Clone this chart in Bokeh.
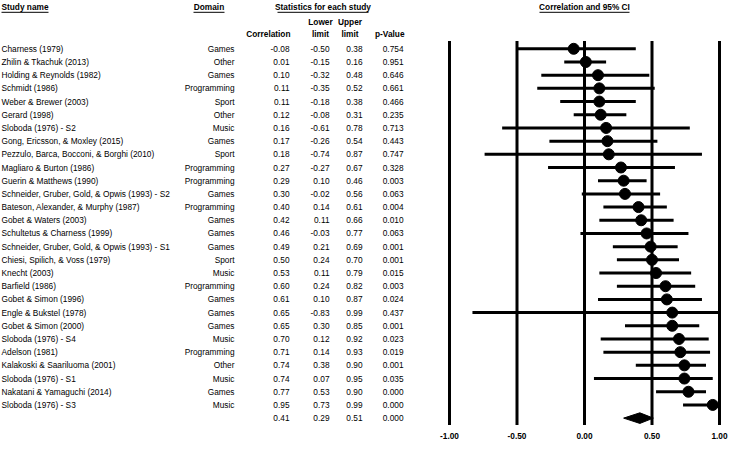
from bokeh.plotting import figure
from bokeh.models import Range1d, ColumnDataSource
from bokeh.core.properties import value
from bokeh.embed import file_html
from bokeh.resources import INLINE

# ---------------- data ----------------
studies = [
    "Charness (1979)", "Zhilin & Tkachuk (2013)", "Holding & Reynolds (1982)",
    "Schmidt (1986)", "Weber & Brewer (2003)", "Gerard (1998)", "Sloboda (1976) - S2",
    "Gong, Ericsson, & Moxley (2015)", "Pezzulo, Barca, Bocconi, & Borghi (2010)",
    "Magliaro & Burton (1986)", "Guerin & Matthews (1990)",
    "Schneider, Gruber, Gold, & Opwis (1993) - S2", "Bateson, Alexander, & Murphy (1987)",
    "Gobet & Waters (2003)", "Schultetus & Charness (1999)",
    "Schneider, Gruber, Gold, & Opwis (1993) - S1", "Chiesi, Spilich, & Voss (1979)",
    "Knecht (2003)", "Barfield (1986)", "Gobet & Simon (1996)", "Engle & Bukstel (1978)",
    "Gobet & Simon (2000)", "Sloboda (1976) - S4", "Adelson (1981)",
    "Kalakoski & Saariluoma (2001)", "Sloboda (1976) - S1", "Nakatani & Yamaguchi (2014)",
    "Sloboda (1976) - S3",
]
domains = [
    "Games", "Other", "Games", "Programming", "Sport", "Other", "Music", "Games", "Sport",
    "Programming", "Programming", "Games", "Programming", "Games", "Games", "Games", "Sport",
    "Music", "Programming", "Games", "Games", "Games", "Music", "Programming", "Other",
    "Music", "Games", "Music",
]
corr = [-0.08, 0.01, 0.10, 0.11, 0.11, 0.12, 0.16, 0.17, 0.18, 0.27, 0.29, 0.30, 0.40, 0.42,
        0.46, 0.49, 0.50, 0.53, 0.60, 0.61, 0.65, 0.65, 0.70, 0.71, 0.74, 0.74, 0.77, 0.95]
lower = [-0.50, -0.15, -0.32, -0.35, -0.18, -0.08, -0.61, -0.26, -0.74, -0.27, 0.10, -0.02,
         0.14, 0.11, -0.03, 0.21, 0.24, 0.11, 0.24, 0.10, -0.83, 0.30, 0.12, 0.14, 0.38, 0.07,
         0.53, 0.73]
upper = [0.38, 0.16, 0.48, 0.52, 0.38, 0.31, 0.78, 0.54, 0.87, 0.67, 0.46, 0.56, 0.61, 0.66,
         0.77, 0.69, 0.70, 0.79, 0.82, 0.87, 0.99, 0.85, 0.92, 0.93, 0.90, 0.95, 0.90, 0.99]
pvals = [0.754, 0.951, 0.646, 0.661, 0.466, 0.235, 0.713, 0.443, 0.747, 0.328, 0.003, 0.063,
         0.004, 0.010, 0.063, 0.001, 0.001, 0.015, 0.003, 0.024, 0.437, 0.001, 0.023, 0.019,
         0.001, 0.035, 0.000, 0.000]
sum_corr, sum_lower, sum_upper, sum_p = 0.41, 0.29, 0.51, 0.000

ticks = [-1.0, -0.5, 0.0, 0.5, 1.0]
tick_labels = ["-1.00", "-0.50", "0.00", "0.50", "1.00"]

# ---------------- layout constants ----------------
FONT = value("Liberation Sans")
FS = "8.3px"
W = 730           # canvas width (px)
H = 441           # canvas height (px)
K = 135.0         # px per correlation unit
XMIN = -1 - 449 / K
S = 13.19         # px per row
ROW0 = 48.3       # px of first row from top
TOP = -ROW0 / S


def X(px):
    """layout pixel -> data x"""
    return XMIN + px / K


def Y(px):
    """layout pixel -> data y"""
    return TOP + px / S


n = len(studies)
rows = list(range(n))
sum_row = n
hdr1, hdr2, hdr3 = Y(6.8), Y(21.2), Y(33.8)
ul = 5 / S

p = figure(width=W, height=H,
           x_range=Range1d(XMIN, XMIN + W / K), y_range=Range1d(TOP + H / S, TOP),
           output_backend="svg", toolbar_location=None, min_border=0,
           x_axis_location=None, y_axis_location=None, outline_line_color=None, title=None)
p.grid.visible = False

# ---------------- table ----------------
src = ColumnDataSource(dict(y=rows, name=studies, dom=domains))
src2 = ColumnDataSource(dict(
    y=rows + [sum_row],
    c=["%.2f" % v for v in corr + [sum_corr]],
    lo=["%.2f" % v for v in lower + [sum_lower]],
    up=["%.2f" % v for v in upper + [sum_upper]],
    pv=["%.3f" % v for v in pvals + [sum_p]],
))
common = dict(text_font=FONT, text_font_size=FS, text_baseline="middle", text_color="black")
p.text(x=X(1), y="y", text="name", source=src, text_align="left", **common)
p.text(x=X(234), y="y", text="dom", source=src, text_align="right", **common)
p.text(x=X(289), y="y", text="c", source=src2, text_align="right", **common)
p.text(x=X(329), y="y", text="lo", source=src2, text_align="right", **common)
p.text(x=X(362), y="y", text="up", source=src2, text_align="right", **common)
p.text(x=X(403), y="y", text="pv", source=src2, text_align="right", **common)

bold = dict(common, text_font_style="bold")
p.text(x=[X(1)], y=[hdr1], text=["Study name"], text_align="left", **bold)
p.text(x=[X(208.5)], y=[hdr1], text=["Domain"], text_align="center", **bold)
p.text(x=[X(322.5)], y=[hdr1], text=["Statistics for each study"], text_align="center", **bold)
p.text(x=[0], y=[hdr1], text=["Correlation and 95% CI"], text_align="center", **bold)
p.segment(x0=[X(1), X(193), X(277), -45 / K], y0=[hdr1 + ul] * 4,
          x1=[X(48), X(224), X(368), 45 / K], y1=[hdr1 + ul] * 4,
          line_color="black", line_width=1)
p.text(x=[X(290)], y=[hdr3], text=["Correlation"], text_align="right", **bold)
p.text(x=[X(320), X(349.5)], y=[hdr2, hdr2], text=["Lower", "Upper"], text_align="center", **bold)
p.text(x=[X(320), X(349.5)], y=[hdr3, hdr3], text=["limit", "limit"], text_align="center", **bold)
p.text(x=[X(404)], y=[hdr3], text=["p-Value"], text_align="right", **bold)

# ---------------- forest plot ----------------
ytop = Y(40.5)
ybot = sum_row + 7.0 / S
p.segment(x0=ticks, y0=[ytop] * len(ticks), x1=ticks, y1=[ybot] * len(ticks),
          line_color="black", line_width=3)
p.segment(x0=lower, y0=rows, x1=upper, y1=rows, line_color="black", line_width=3)
p.scatter(x=corr, y=rows, size=11, color="black")
dh = 5.3 / S
p.patch(x=[sum_lower, sum_corr, sum_upper, sum_corr],
        y=[sum_row, sum_row - dh, sum_row, sum_row + dh], color="black")

# tick labels under the reference lines (positioned on the x scale)
p.text(x=ticks, y=[Y(435.5)] * len(ticks), text=tick_labels, text_align="center", **bold)

open("out.html", "w").write(file_html(p, INLINE))
